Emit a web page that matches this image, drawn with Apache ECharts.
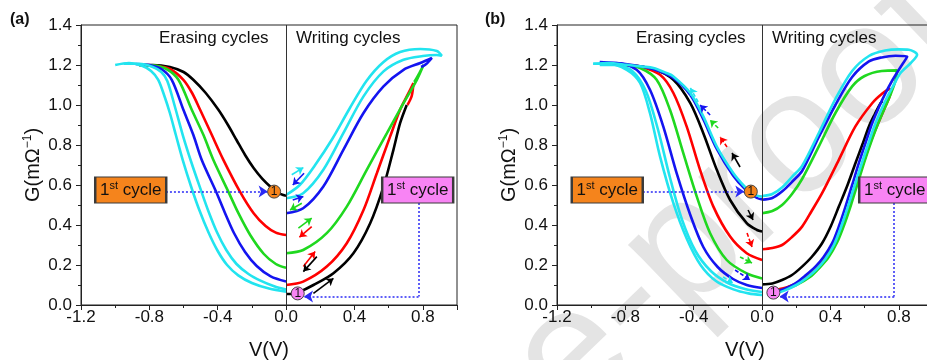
<!DOCTYPE html>
<html><head><meta charset="utf-8">
<script src="https://cdn.jsdelivr.net/npm/echarts@6/dist/echarts.min.js"></script>
<style>html,body{margin:0;padding:0;overflow:hidden;background:#fff}#c{width:940px;height:360px}</style>
</head><body><div id="c"></div>
<script>
// ---------- tick labels ----------
const xTicks = [-1.2, -0.8, -0.4, 0.0, 0.4, 0.8];
const yTicks = [0.0, 0.2, 0.4, 0.6, 0.8, 1.0, 1.2, 1.4];

// ---------- panel (a): erasing branches (V<0) ----------
const aEraseBlack = [[-0.86,1.2],[-0.78,1.2],[-0.68,1.19],[-0.6,1.165],[-0.543,1.126],[-0.47,1.06],[-0.396,0.976],[-0.34,0.9],[-0.29,0.825],[-0.24,0.75],[-0.19,0.685],[-0.14,0.632],[-0.09,0.59],[-0.05,0.562],[0,0.546]];
const aEraseRed = [[-0.86,1.2],[-0.76,1.195],[-0.68,1.18],[-0.601,1.126],[-0.55,1.06],[-0.503,0.976],[-0.435,0.851],[-0.367,0.726],[-0.27,0.567],[-0.19,0.459],[-0.12,0.395],[-0.06,0.362],[0,0.35]];
const aEraseGreen = [[-0.86,1.2],[-0.78,1.198],[-0.7,1.18],[-0.63,1.126],[-0.552,0.976],[-0.484,0.851],[-0.426,0.726],[-0.338,0.567],[-0.279,0.459],[-0.21,0.35],[-0.13,0.255],[-0.06,0.205],[0,0.186]];
const aEraseBlue = [[-0.88,1.205],[-0.8,1.2],[-0.73,1.18],[-0.669,1.126],[-0.601,0.976],[-0.543,0.851],[-0.494,0.726],[-0.41,0.567],[-0.36,0.465],[-0.305,0.36],[-0.24,0.265],[-0.172,0.195],[-0.09,0.143],[0,0.117]];
const aEraseCyan1 = [[-0.95,1.206],[-0.86,1.206],[-0.78,1.19],[-0.73,1.165],[-0.695,1.12],[-0.65,0.99],[-0.605,0.851],[-0.555,0.715],[-0.5,0.578],[-0.455,0.47],[-0.405,0.365],[-0.35,0.275],[-0.29,0.205],[-0.22,0.155],[-0.15,0.122],[-0.07,0.094],[0,0.078]];
const aEraseCyan2 = [[-1.0,1.2],[-0.92,1.21],[-0.84,1.195],[-0.79,1.17],[-0.748,1.126],[-0.71,1.04],[-0.68,0.96],[-0.645,0.85],[-0.605,0.726],[-0.555,0.59],[-0.51,0.48],[-0.455,0.365],[-0.4,0.27],[-0.345,0.2],[-0.28,0.148],[-0.2,0.11],[-0.1,0.082],[0,0.067]];
// ---------- panel (a): writing branches (V>0) ----------
const aWriteBlack = [[0,0.055],[0.04,0.056],[0.072,0.063],[0.16,0.1],[0.277,0.159],[0.394,0.259],[0.492,0.409],[0.57,0.592],[0.628,0.776],[0.667,0.909],[0.706,1.0]];
const aWriteRed = [[0,0.1],[0.1,0.117],[0.238,0.192],[0.355,0.309],[0.453,0.475],[0.531,0.659],[0.609,0.843],[0.667,0.976],[0.716,1.059],[0.745,1.109],[0.735,1.045],[0.71,1.0]];
const aWriteGreen = [[0,0.259],[0.1,0.275],[0.238,0.359],[0.355,0.492],[0.472,0.676],[0.59,0.859],[0.687,1.009],[0.765,1.126],[0.804,1.2],[0.78,1.16],[0.75,1.115]];
const aWriteBlue = [[0,0.459],[0.1,0.484],[0.218,0.593],[0.335,0.776],[0.453,0.96],[0.57,1.093],[0.687,1.176],[0.785,1.21],[0.853,1.235],[0.82,1.205],[0.79,1.19]];
const aWriteCyan = [[0,0.534],[0.1,0.559],[0.218,0.676],[0.335,0.859],[0.453,1.043],[0.57,1.168],[0.687,1.226],[0.8,1.245],[0.88,1.25],[0.911,1.246],[0.882,1.27],[0.785,1.28],[0.667,1.265],[0.57,1.215],[0.47,1.12],[0.37,0.98],[0.27,0.83],[0.17,0.7],[0.08,0.6],[0,0.55]];

// ---------- panel (b): erasing branches ----------
const bEraseUpCyan = [[-0.988,1.206],[-0.9,1.21],[-0.792,1.201],[-0.7,1.192],[-0.636,1.185],[-0.56,1.16],[-0.519,1.143],[-0.42,1.06],[-0.344,0.943],[-0.265,0.792],[-0.168,0.659],[-0.1,0.59],[-0.07,0.567],[-0.03,0.547],[0,0.542]];
const bEraseUpBlue = [[-0.95,1.215],[-0.8,1.205],[-0.64,1.18],[-0.52,1.135],[-0.42,1.05],[-0.345,0.93],[-0.265,0.78],[-0.17,0.647],[-0.1,0.58],[-0.03,0.535],[0,0.528]];
const bEraseBlack = [[-0.792,1.2],[-0.636,1.18],[-0.519,1.126],[-0.42,1.009],[-0.344,0.859],[-0.265,0.676],[-0.187,0.525],[-0.09,0.409],[-0.03,0.375],[0,0.367]];
const bEraseRed = [[-0.8,1.2],[-0.714,1.193],[-0.597,1.151],[-0.519,1.06],[-0.441,0.892],[-0.363,0.676],[-0.285,0.492],[-0.187,0.342],[-0.09,0.259],[0,0.225]];
const bEraseGreen = [[-0.812,1.2],[-0.714,1.185],[-0.617,1.126],[-0.539,0.976],[-0.461,0.759],[-0.382,0.542],[-0.304,0.359],[-0.207,0.225],[-0.09,0.158],[0,0.133]];
const bEraseBlue = [[-0.95,1.21],[-0.851,1.21],[-0.734,1.176],[-0.656,1.076],[-0.578,0.892],[-0.5,0.659],[-0.42,0.45],[-0.344,0.29],[-0.26,0.19],[-0.17,0.13],[-0.09,0.1],[0,0.085]];
const bEraseCyan1 = [[-0.95,1.2],[-0.86,1.2],[-0.76,1.17],[-0.68,1.07],[-0.61,0.88],[-0.54,0.64],[-0.47,0.43],[-0.39,0.27],[-0.3,0.17],[-0.2,0.11],[-0.1,0.08],[0,0.065]];
const bEraseCyan2 = [[-0.988,1.206],[-0.909,1.206],[-0.792,1.176],[-0.714,1.11],[-0.656,0.959],[-0.597,0.742],[-0.519,0.509],[-0.44,0.33],[-0.36,0.2],[-0.27,0.12],[-0.168,0.078],[-0.08,0.058],[0,0.05]];
// ---------- panel (b): writing branches ----------
const bWriteBlack = [[0,0.103],[0.06,0.108],[0.117,0.125],[0.175,0.15],[0.234,0.192],[0.29,0.24],[0.351,0.309],[0.4,0.39],[0.449,0.492],[0.5,0.6],[0.546,0.709],[0.59,0.81],[0.625,0.893],[0.66,0.955],[0.693,1.009],[0.705,1.02]];
const bWriteRed = [[0,0.279],[0.06,0.285],[0.117,0.3],[0.175,0.34],[0.234,0.392],[0.29,0.47],[0.351,0.559],[0.449,0.726],[0.546,0.893],[0.644,1.009],[0.7,1.055],[0.742,1.079],[0.758,1.08],[0.745,1.04],[0.72,0.99],[0.69,0.93],[0.655,0.86],[0.62,0.78],[0.585,0.69],[0.55,0.6],[0.515,0.51],[0.478,0.42],[0.44,0.34],[0.395,0.27],[0.345,0.21],[0.29,0.16],[0.225,0.12],[0.15,0.09],[0.07,0.075]];
const bWriteGreen = [[0,0.459],[0.06,0.47],[0.117,0.5],[0.175,0.555],[0.234,0.63],[0.332,0.793],[0.429,0.96],[0.527,1.093],[0.6,1.145],[0.7,1.17],[0.79,1.173],[0.78,1.12],[0.755,1.06],[0.72,0.99],[0.68,0.91],[0.64,0.82],[0.6,0.72],[0.56,0.61],[0.52,0.5],[0.48,0.4],[0.44,0.315],[0.39,0.24],[0.34,0.19],[0.28,0.14],[0.2,0.1],[0.12,0.075],[0.05,0.065]];
const bWriteBlue = [[0,0.526],[0.06,0.535],[0.12,0.57],[0.18,0.62],[0.234,0.67],[0.332,0.84],[0.429,1.0],[0.527,1.14],[0.625,1.218],[0.7,1.238],[0.781,1.246],[0.849,1.243],[0.8,1.176],[0.76,1.12],[0.722,1.059],[0.684,0.99],[0.644,0.909],[0.605,0.81],[0.566,0.709],[0.527,0.6],[0.488,0.492],[0.45,0.395],[0.41,0.309],[0.36,0.24],[0.312,0.192],[0.25,0.145],[0.195,0.108],[0.13,0.08],[0.059,0.062]];
const bWriteCyan = [[0,0.545],[0.06,0.555],[0.12,0.59],[0.18,0.645],[0.234,0.695],[0.332,0.86],[0.429,1.03],[0.527,1.17],[0.625,1.245],[0.72,1.272],[0.8,1.278],[0.859,1.276],[0.907,1.251],[0.87,1.21],[0.81,1.16],[0.77,1.1],[0.732,1.04],[0.694,0.97],[0.655,0.89],[0.615,0.79],[0.576,0.69],[0.537,0.585],[0.498,0.48],[0.46,0.385],[0.42,0.3],[0.37,0.23],[0.32,0.18],[0.26,0.135],[0.2,0.1],[0.13,0.072],[0.06,0.052]];

// ---------- small direction arrows [[tail],[head]] ----------
const aArrowsCyan = [[[0.033,0.651],[0.101,0.687]]];
const aArrowsBlue = [[[0.105,0.659],[0.039,0.6]],[[0.039,0.525],[0.101,0.542]]];
const aArrowsGreen = [[[0.092,0.509],[0.023,0.475]],[[0.072,0.384],[0.15,0.434]]];
const aArrowsRed = [[[0.15,0.392],[0.078,0.339]],[[0.101,0.192],[0.17,0.267]]];
const aArrowsBlack = [[[0.18,0.242],[0.101,0.167]],[[0.16,0.058],[0.277,0.133]]];
const bArrowsCyan = [[[-0.374,1.016],[-0.42,1.085]],[[-0.228,0.14],[-0.17,0.11]]];
const bArrowsBlue = [[[-0.304,0.95],[-0.363,1.0]],[[-0.158,0.175],[-0.07,0.125]]];
const bArrowsGreen = [[[-0.257,0.885],[-0.305,0.925]],[[-0.129,0.24],[-0.059,0.21]]];
const bArrowsRed = [[[-0.205,0.79],[-0.246,0.84]],[[-0.088,0.36],[-0.059,0.29]]];
const bArrowsBlack = [[[-0.129,0.69],[-0.176,0.76]],[[-0.082,0.475],[-0.053,0.425]]];

// ---------- annotations (data coordinates) ----------
const aOrangeBox = [[-0.909,0.575]], aPinkBox = [[0.77,0.575]];
const bOrangeBox = [[-0.906,0.575]], bPinkBox = [[0.776,0.575]];
const aOrangeDot = [[-0.07,0.567]], aPinkDot = [[0.068,0.058]];
const bOrangeDot = [[-0.066,0.567]], bPinkDot = [[0.066,0.062]];
const aOrangeLead = [[[-0.703,0.567],[-0.108,0.567]]];
const aPinkLeadV = [[[0.775,0.51],[0.775,0.042]]];
const aPinkLeadH = [[[0.775,0.042],[0.105,0.042]]];
const bOrangeLead = [[[-0.698,0.567],[-0.104,0.567]]];
const bPinkLeadV = [[[0.773,0.51],[0.773,0.042]]];
const bPinkLeadH = [[[0.773,0.042],[0.103,0.042]]];

// ---------- styling ----------
const FONT = 'Arial, "Liberation Sans", sans-serif';
const C = {black:'#000000', red:'#ff0000', green:'#1fd81f', blue:'#1414f0', cyan:'#22e4ef'};
const ORANGE = '#f5841c', PINK = '#f884f4', DOTBLUE = '#2a2af5';

function curve(data, color, g, z) {
  return {type:'line', xAxisIndex:g, yAxisIndex:g, data:data, symbol:'none', showSymbol:false,
    smooth:0.3, lineStyle:{color:color, width:2.6}, itemStyle:{color:color}, silent:true, animation:false, z:z||3};
}
function arrows(list, color, g, dashed) {
  return {type:'lines', coordinateSystem:'cartesian2d', xAxisIndex:g, yAxisIndex:g,
    symbol:['none','arrow'], symbolSize:7, silent:true, animation:false, z:6,
    lineStyle:{color:color, width:1.6, type: dashed ? [4,2] : 'solid', opacity:1},
    data:list.map(c => ({coords:c}))};
}
function leads(list, g, head) {
  return {type:'lines', coordinateSystem:'cartesian2d', xAxisIndex:g, yAxisIndex:g,
    symbol: head ? ['none','arrow'] : ['none','none'], symbolSize:[8,9], silent:true, animation:false, z:7,
    lineStyle:{color:DOTBLUE, width:1.5, type:[2,2], opacity:1},
    data:list.map(c => ({coords:c}))};
}
const richBox = {a:{fontSize:17, fontFamily:FONT, color:'#111', lineHeight:20},
                 s:{fontSize:11, fontFamily:FONT, color:'#111', lineHeight:11, verticalAlign:'top'}};
function box(data, color, g) {
  return {type:'scatter', xAxisIndex:g, yAxisIndex:g, data:data, symbol:'rect', symbolSize:[71,26],
    itemStyle:{color:color, borderColor:'#3a3a3a', borderWidth:1.5, opacity:1}, silent:true, animation:false, z:8,
    label:{show:true, position:'inside', formatter:'{a|1}{s|st}{a| cycle}', rich:richBox}};
}
function dot(data, color, g) {
  return {type:'scatter', xAxisIndex:g, yAxisIndex:g, data:data, symbol:'circle', symbolSize:13,
    itemStyle:{color:color, borderColor:'#444', borderWidth:1, opacity:1}, silent:true, animation:false, z:9,
    label:{show:true, position:'inside', formatter:'1', fontSize:12, fontFamily:FONT, color:'#111'}};
}

function xAxis(g) {
  return {type:'value', gridIndex:g, min:xTicks[0], max:1.0, interval:0.4,
    axisLine:{show:true, onZero:false, lineStyle:{color:'#222', width:1}},
    axisTick:{show:true, length:5, lineStyle:{color:'#222'}},
    minorTick:{show:true, splitNumber:2, length:3, lineStyle:{color:'#222'}},
    splitLine:{show:false},
    axisLabel:{fontSize:17, fontFamily:FONT, color:'#111', margin:4, showMaxLabel:false,
      formatter: v => xTicks.some(t => Math.abs(t - v) < 1e-6) ? v.toFixed(1) : ''},
    name:'V(V)', nameLocation:'middle', nameGap:35,
    nameTextStyle:{fontSize:20, fontFamily:FONT, color:'#111'}};
}
function yAxis(g) {
  return {type:'value', gridIndex:g, min:yTicks[0], max:yTicks[yTicks.length-1], interval:0.2,
    axisLine:{show:true, onZero:false, lineStyle:{color:'#222', width:1}},
    axisTick:{show:true, length:5, lineStyle:{color:'#222'}},
    minorTick:{show:true, splitNumber:2, length:3, lineStyle:{color:'#222'}},
    splitLine:{show:false},
    axisLabel:{fontSize:17, fontFamily:FONT, color:'#111', margin:9, formatter: v => v.toFixed(1)},
    name:'{a|G(mΩ}{s|−1}{a|)}', nameLocation:'middle', nameGap:37,
    nameTextStyle:{fontFamily:FONT, color:'#111',
      rich:{a:{fontSize:20, fontFamily:FONT, color:'#111', lineHeight:22},
            s:{fontSize:12, fontFamily:FONT, color:'#111', lineHeight:12, verticalAlign:'top'}}}};
}

const zeroLine = {silent:true, symbol:['none','none'], animation:false, label:{show:false},
  lineStyle:{color:'#333', width:1, type:'solid'}, data:[{xAxis:0}]};

const seriesA = [
  Object.assign(curve(aEraseBlack, C.black, 0), {markLine: zeroLine}),
  curve(aEraseRed, C.red, 0), curve(aEraseGreen, C.green, 0), curve(aEraseBlue, C.blue, 0),
  curve(aEraseCyan1, C.cyan, 0), curve(aEraseCyan2, C.cyan, 0),
  curve(aWriteBlack, C.black, 0), curve(aWriteRed, C.red, 0), curve(aWriteGreen, C.green, 0),
  curve(aWriteBlue, C.blue, 0), curve(aWriteCyan, C.cyan, 0),
  arrows(aArrowsCyan, C.cyan, 0), arrows(aArrowsBlue, C.blue, 0), arrows(aArrowsGreen, C.green, 0),
  arrows(aArrowsRed, C.red, 0), arrows(aArrowsBlack, C.black, 0),
  leads(aOrangeLead, 0, true), leads(aPinkLeadV, 0, false), leads(aPinkLeadH, 0, true),
  box(aOrangeBox, ORANGE, 0), box(aPinkBox, PINK, 0), dot(aOrangeDot, ORANGE, 0), dot(aPinkDot, PINK, 0)
];
const seriesB = [
  Object.assign(curve(bEraseBlack, C.black, 1), {markLine: zeroLine}),
  curve(bEraseRed, C.red, 1), curve(bEraseGreen, C.green, 1), curve(bEraseBlue, C.blue, 1),
  curve(bEraseCyan1, C.cyan, 1), curve(bEraseCyan2, C.cyan, 1),
  curve(bEraseUpBlue, C.blue, 1), curve(bEraseUpCyan, C.cyan, 1),
  curve(bWriteBlack, C.black, 1), curve(bWriteRed, C.red, 1), curve(bWriteGreen, C.green, 1),
  curve(bWriteBlue, C.blue, 1), curve(bWriteCyan, C.cyan, 1),
  arrows(bArrowsCyan, C.cyan, 1, true), arrows(bArrowsBlue, C.blue, 1, true), arrows(bArrowsGreen, C.green, 1, true),
  arrows(bArrowsRed, C.red, 1, true), arrows(bArrowsBlack, C.black, 1, false),
  leads(bOrangeLead, 1, true), leads(bPinkLeadV, 1, false), leads(bPinkLeadH, 1, true),
  box(bOrangeBox, ORANGE, 1), box(bPinkBox, PINK, 1), dot(bOrangeDot, ORANGE, 1), dot(bPinkDot, PINK, 1)
];

const chart = echarts.init(document.getElementById('c'), null, {renderer:'canvas'});
chart.setOption({
  animation:false,
  backgroundColor:'#ffffff',
  grid:[
    {left:81, top:25, width:376, height:280, show:true, borderColor:'#222', borderWidth:1, backgroundColor:'transparent',
     containLabel:false, outerBoundsMode:'none'},
    {left:557, top:25, width:376, height:280, show:true, borderColor:'#222', borderWidth:1, backgroundColor:'transparent',
     containLabel:false, outerBoundsMode:'none'}
  ],
  xAxis:[xAxis(0), xAxis(1)],
  yAxis:[yAxis(0), yAxis(1)],
  graphic:[
    {type:'text', z:-10, x:738, y:200, rotation:44*Math.PI/180, silent:true,
      style:{text:'e-proof', fontSize:175, fontFamily:FONT, fill:'#e4e4e4',
             align:'center', verticalAlign:'middle', textAlign:'center', textVerticalAlign:'middle'}},
    {type:'text', left:10, top:12, style:{text:'(a)', fontSize:16, fontWeight:'bold', fontFamily:FONT, fill:'#111'}},
    {type:'text', left:485, top:12, style:{text:'(b)', fontSize:16, fontWeight:'bold', fontFamily:FONT, fill:'#111'}},
    {type:'text', left:159, top:30, style:{text:'Erasing cycles', fontSize:17, fontFamily:FONT, fill:'#111'}},
    {type:'text', left:296, top:30, style:{text:'Writing cycles', fontSize:17, fontFamily:FONT, fill:'#111'}},
    {type:'text', left:636, top:30, style:{text:'Erasing cycles', fontSize:17, fontFamily:FONT, fill:'#111'}},
    {type:'text', left:772, top:30, style:{text:'Writing cycles', fontSize:17, fontFamily:FONT, fill:'#111'}}
  ],
  series: seriesA.concat(seriesB)
});
</script></body></html>
